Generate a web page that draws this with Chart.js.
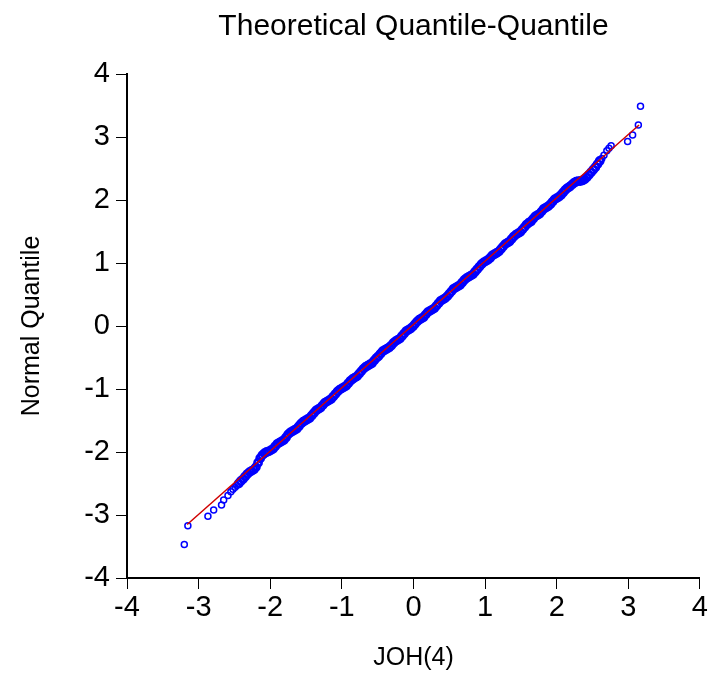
<!DOCTYPE html>
<html lang="en">

<head>
    <meta charset="UTF-8">
    <title>Theoretical Quantile-Quantile</title>
    <script src="https://cdn.jsdelivr.net/npm/chart.js"></script>
    <style>
        html, body {
            margin: 0;
            padding: 0;
            background: #ffffff;
        }
    </style>
</head>

<body>
    <canvas id="chart" width="710" height="673"></canvas>
    <script>
        // quantiles of JOH(4) (x) against normal quantiles (y)
        // sparse lower tail
        const lowTailX = [-3.20, -3.15, -2.87, -2.79, -2.68, -2.65, -2.59, -2.55, -2.52, -2.49, -2.47];
        const lowTailY = [-3.47, -3.17, -3.02, -2.92, -2.84, -2.76, -2.69, -2.63, -2.59, -2.56, -2.53];

        // dense middle of the sample
        const bodyX = [
            -2.44, -2.41, -2.38, -2.35, -2.32, -2.29, -2.26, -2.23, -2.20, -2.17,
            -2.14, -2.11, -2.08, -2.05, -2.02, -1.99, -1.96, -1.93, -1.90, -1.87,
            -1.84, -1.81, -1.78, -1.75, -1.72, -1.69, -1.66, -1.63, -1.60, -1.57,
            -1.54, -1.51, -1.48, -1.45, -1.42, -1.39, -1.36, -1.33, -1.30, -1.27,
            -1.24, -1.21, -1.18, -1.15, -1.12, -1.09, -1.06, -1.03, -1.00, -0.97,
            -0.94, -0.91, -0.88, -0.85, -0.82, -0.79, -0.76, -0.73, -0.70, -0.67,
            -0.64, -0.61, -0.58, -0.55, -0.52, -0.49, -0.46, -0.43, -0.40, -0.37,
            -0.34, -0.31, -0.28, -0.25, -0.22, -0.19, -0.16, -0.13, -0.10, -0.07,
            -0.04, -0.01, 0.02, 0.05, 0.08, 0.11, 0.14, 0.17, 0.20, 0.23,
            0.26, 0.29, 0.32, 0.35, 0.38, 0.41, 0.44, 0.47, 0.50, 0.53,
            0.56, 0.59, 0.62, 0.65, 0.68, 0.71, 0.74, 0.77, 0.80, 0.83,
            0.86, 0.89, 0.92, 0.95, 0.98, 1.01, 1.04, 1.07, 1.10, 1.13,
            1.16, 1.19, 1.22, 1.25, 1.28, 1.31, 1.34, 1.37, 1.40, 1.43,
            1.46, 1.49, 1.52, 1.55, 1.58, 1.61, 1.64, 1.67, 1.70, 1.73,
            1.76, 1.79, 1.82, 1.85, 1.88, 1.91, 1.94, 1.97, 2.00, 2.03,
            2.06, 2.09, 2.12, 2.15, 2.18, 2.21, 2.24, 2.27, 2.30, 2.33,
            2.36, 2.39, 2.42, 2.45, 2.48, 2.51, 2.54, 2.57, 2.60
        ];
        const bodyY = [
            -2.50, -2.46, -2.43, -2.39, -2.35, -2.32, -2.30, -2.28, -2.24, -2.17,
            -2.10, -2.05, -2.02, -2.00, -1.99, -1.97, -1.95, -1.91, -1.87, -1.85,
            -1.83, -1.81, -1.77, -1.72, -1.69, -1.67, -1.65, -1.63, -1.59, -1.55,
            -1.52, -1.50, -1.48, -1.46, -1.42, -1.38, -1.34, -1.32, -1.30, -1.26,
            -1.22, -1.20, -1.18, -1.16, -1.12, -1.08, -1.04, -1.01, -0.99, -0.97,
            -0.95, -0.91, -0.87, -0.84, -0.82, -0.80, -0.76, -0.72, -0.68, -0.65,
            -0.63, -0.61, -0.59, -0.55, -0.51, -0.48, -0.44, -0.40, -0.38, -0.36,
            -0.34, -0.31, -0.27, -0.24, -0.22, -0.20, -0.16, -0.12, -0.08, -0.06,
            -0.04, -0.01, 0.03, 0.07, 0.10, 0.12, 0.14, 0.18, 0.22, 0.24,
            0.26, 0.28, 0.32, 0.36, 0.40, 0.42, 0.44, 0.47, 0.51, 0.55,
            0.59, 0.61, 0.63, 0.65, 0.69, 0.73, 0.76, 0.78, 0.80, 0.82,
            0.86, 0.90, 0.94, 0.98, 1.01, 1.03, 1.05, 1.08, 1.12, 1.14,
            1.16, 1.18, 1.22, 1.26, 1.30, 1.32, 1.34, 1.38, 1.42, 1.45,
            1.47, 1.49, 1.53, 1.57, 1.61, 1.64, 1.66, 1.70, 1.74, 1.76,
            1.78, 1.82, 1.86, 1.88, 1.90, 1.93, 1.97, 2.01, 2.03, 2.05,
            2.08, 2.12, 2.16, 2.19, 2.21, 2.24, 2.27, 2.29, 2.30, 2.30,
            2.31, 2.33, 2.36, 2.40, 2.44, 2.48, 2.52, 2.57, 2.62
        ];

        // sparse upper tail
        const highTailX = [2.63, 2.66, 2.70, 2.73, 2.76, 2.99, 3.06, 3.14, 3.17];
        const highTailY = [2.66, 2.71, 2.78, 2.82, 2.86, 2.93, 3.03, 3.19, 3.49];

        // fitted reference line end points
        const fitX = [-3.16, 3.15];
        const fitY = [-3.15, 3.19];

        const axisTicks = [-4, -3, -2, -1, 0, 1, 2, 3, 4];

        const font = "'Liberation Sans', Arial, Helvetica, sans-serif";

        const pairs = (xs, ys) => xs.map((x, i) => ({ x: x, y: ys[i] }));
        const tailPoints = pairs(lowTailX, lowTailY).concat(pairs(highTailX, highTailY));
        const bodyPoints = pairs(bodyX, bodyY);
        const fitLine = pairs(fitX, fitY);

        function axisStyle(title, tickPadding, titlePadding) {
            return {
                type: 'linear',
                min: -4,
                max: 4,
                afterBuildTicks: scale => {
                    scale.ticks = axisTicks.map(v => ({ value: v }));
                },
                ticks: {
                    color: '#000000',
                    font: { family: font, size: 29 },
                    padding: tickPadding
                },
                grid: {
                    drawOnChartArea: false,
                    drawTicks: true,
                    tickLength: 11,
                    tickWidth: 1,
                    tickColor: '#000000'
                },
                border: {
                    display: true,
                    color: '#000000',
                    width: 2
                },
                title: {
                    display: true,
                    text: title,
                    color: '#000000',
                    font: { family: font, size: 25 },
                    padding: titlePadding
                }
            };
        }

        const xAxis = axisStyle('JOH(4)', 2, { top: 0, bottom: 0 });
        xAxis.position = 'bottom';
        xAxis.afterFit = scale => { scale.height = 95; };

        const yAxis = axisStyle('Normal Quantile', 6, { top: 17, bottom: 0 });
        yAxis.position = 'left';
        yAxis.afterFit = scale => { scale.width = 127; };

        const ctx = document.getElementById('chart').getContext('2d');

        new Chart(ctx, {
            data: {
                datasets: [
                    {
                        type: 'line',
                        label: 'fit',
                        data: fitLine,
                        borderColor: '#d00000',
                        borderWidth: 1.5,
                        pointRadius: 0,
                        fill: false,
                        order: 0
                    },
                    {
                        type: 'scatter',
                        label: 'JOH(4)',
                        data: bodyPoints,
                        borderColor: '#0000ff',
                        backgroundColor: 'rgba(0,0,0,0)',
                        borderWidth: 2.6,
                        pointRadius: 3.6,
                        order: 1
                    },
                    {
                        type: 'scatter',
                        label: 'JOH(4) tails',
                        data: tailPoints,
                        borderColor: '#0000ff',
                        backgroundColor: 'rgba(0,0,0,0)',
                        borderWidth: 1.5,
                        pointRadius: 3,
                        order: 2
                    }
                ]
            },
            options: {
                responsive: false,
                animation: false,
                layout: {
                    padding: { top: 0, left: 0, right: 10, bottom: 0 }
                },
                plugins: {
                    legend: { display: false },
                    tooltip: { enabled: false },
                    title: {
                        display: true,
                        fullSize: false,
                        text: 'Theoretical Quantile-Quantile',
                        color: '#000000',
                        font: { family: font, size: 30, weight: 'normal' },
                        padding: { top: 9, bottom: 29 }
                    }
                },
                scales: {
                    x: xAxis,
                    y: yAxis
                }
            }
        });
    </script>
</body>

</html>
